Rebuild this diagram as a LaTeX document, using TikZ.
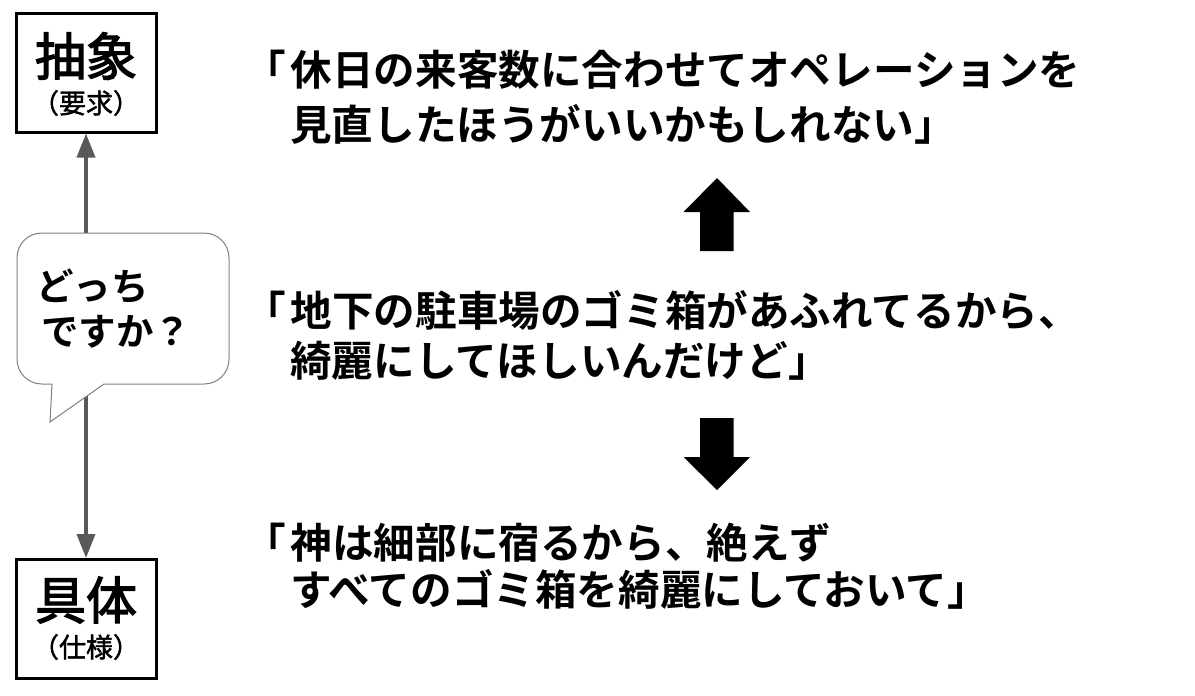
\documentclass[tikz,border=0pt]{standalone}
\usepackage{fontspec}
\usetikzlibrary{arrows.meta}
\setmainfont{Noto Sans CJK JP}[BoldFont={* Bold}]
\newfontfamily\jpmed{Noto Sans CJK JP}[FakeBold=1.5]
\newfontfamily\jptitle{Noto Sans CJK JP}[FakeBold=2.5]
\tikzset{
  termbox/.style={draw=black,line width=3pt,fill=white,minimum width=140pt,minimum height=119pt,inner sep=0pt,anchor=center},
  termtitle/.style={font=\fontsize{51}{51}\selectfont\jptitle,inner sep=0pt,anchor=center},
  termsub/.style={font=\fontsize{27}{27}\selectfont\jpmed,inner sep=0pt,anchor=center},
  quote/.style={font=\fontsize{41.6}{41.6}\selectfont\bfseries,inner sep=0pt,anchor=base west},
  asktext/.style={font=\fontsize{37.5}{37.5}\selectfont\bfseries,inner sep=0pt,anchor=base west},
  scalearrow/.style={draw=black!65,line width=3.6pt,{Triangle[width=18pt,length=24pt]}-{Triangle[width=18pt,length=24pt]}},
  bubble/.style={draw=black!50,line width=1pt,fill=white},
  bigarrow/.style={fill=black,draw=none},
}
\begin{document}
\begin{tikzpicture}[x=1pt,y=-1pt]
\useasboundingbox (0,0) rectangle (1195,696);
\fill[white] (0,0) rectangle (1195,696);
\node[termbox] (abstract) at (86,72.5) {};
\node[termbox] (concrete) at (86,619) {};
\draw[scalearrow] (abstract.south) -- (concrete.north);
\node[termtitle] (t1) at (86,56) {抽象};
\node[termsub] (s1) at (86,103) {（要求）};
\node[termtitle] (t2) at (86,600) {具体};
\node[termsub] (s2) at (86,647) {（仕様）};
\draw[bubble] (42,233) -- (204,233)
  .. controls (218,233) and (229,244) .. (229,258) -- (229,359)
  .. controls (229,373) and (218,384) .. (204,384) -- (104,384)
  -- (50,422) -- (52,384) -- (42,384)
  .. controls (28,384) and (17,373) .. (17,359) -- (17,258)
  .. controls (17,244) and (28,233) .. (42,233) -- cycle;
\node[asktext] (a1) at (36,300) {どっち};
\node[asktext] (a2) at (41,345) {ですか？};
\node[quote] (q1) at (244,85) {「\kern5pt 休日の来客数に合わせてオペレーションを};
\node[quote] (q2) at (290,140) {見直したほうがいいかもしれない」};
\node[quote] (q3) at (244,326) {「\kern5pt 地下の駐車場のゴミ箱があふれてるから、};
\node[quote] (q4) at (290,376) {綺麗にしてほしいんだけど」};
\node[quote] (q5) at (244,558) {「\kern5pt 神は細部に宿るから、絶えず};
\node[quote] (q6) at (290,605) {すべてのゴミ箱を綺麗にしておいて」};
\fill[bigarrow] (717,178) -- (750,212) -- (733.5,212) -- (733.5,251) -- (700,251) -- (700,212) -- (683.5,212) -- cycle;
\fill[bigarrow] (717,490) -- (750,457) -- (733.5,457) -- (733.5,418) -- (700,418) -- (700,457) -- (683.5,457) -- cycle;
\end{tikzpicture}
\end{document}
